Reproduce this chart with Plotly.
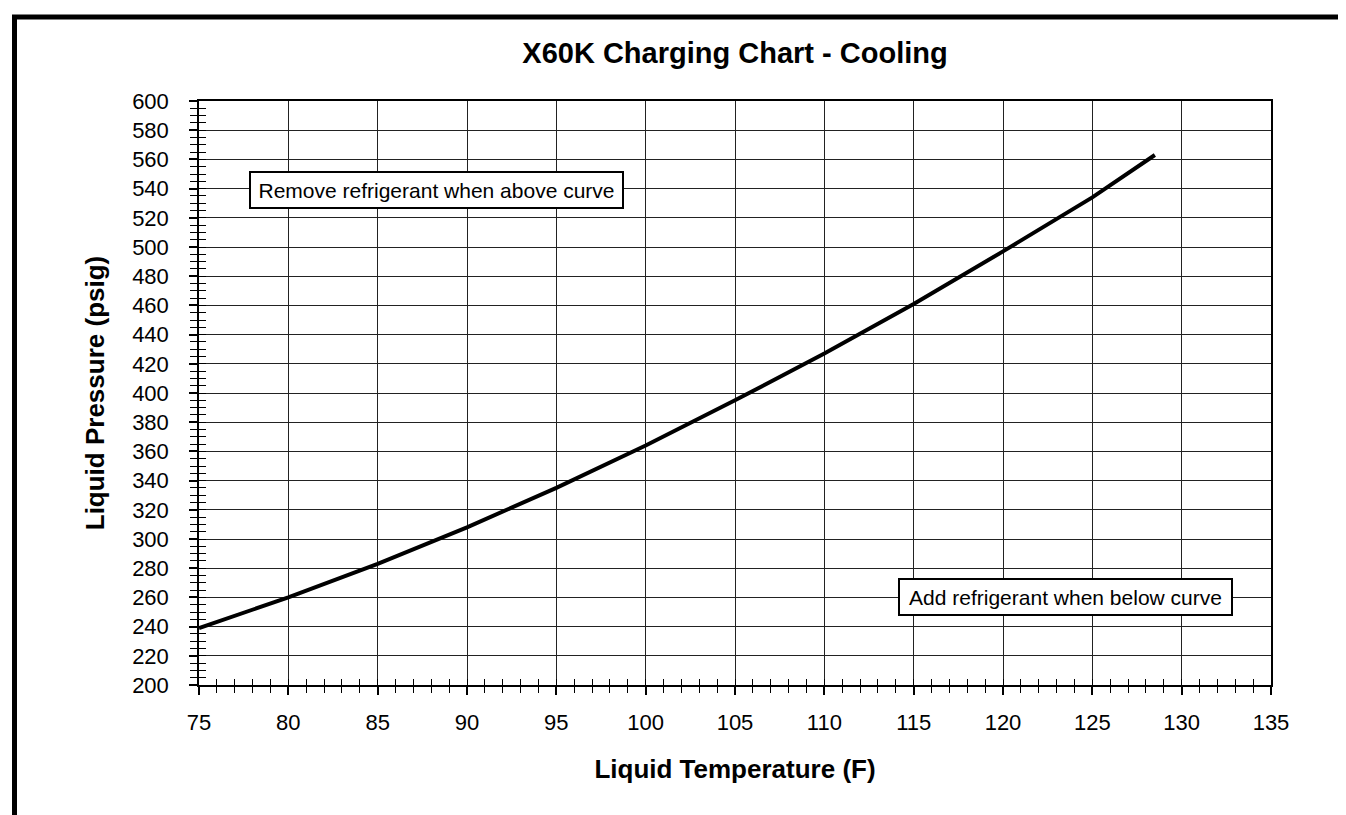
import plotly.graph_objects as go

# Data
temperature_f = [75, 80, 85, 90, 95, 100, 105, 110, 115, 120, 125, 128.5]
pressure_psig = [239, 260, 283, 308, 335, 364, 395, 427, 461, 497, 534, 563]

title_text = "X60K Charging Chart - Cooling"
x_title = "Liquid Temperature (F)"
y_title = "Liquid Pressure (psig)"
note_above = "Remove refrigerant when above curve"
note_below = "Add refrigerant when below curve"
note_above_pos = (88.3, 539)
note_below_pos = (123.5, 260)

FONT = "Liberation Sans, Arial, Helvetica, sans-serif"
W, H = 1346, 815
L, R, T, B = 191, 83, 93, 138
PW, PH = W - L - R, H - T - B

fig = go.Figure()
fig.add_trace(go.Scatter(x=temperature_f, y=pressure_psig, mode="lines",
                         line=dict(color="black", width=4), showlegend=False,
                         hoverinfo="skip"))
# invisible trace to host the overlay axes (ticks drawn inside)
fig.add_trace(go.Scatter(x=[75], y=[200], xaxis="x2", yaxis="y2", mode="markers",
                         marker=dict(opacity=0), showlegend=False, hoverinfo="skip"))

def px_to_paper_x(px):
    return (px - L) / PW

def px_to_paper_y(py):
    return (H - B - py) / PH

fig.update_layout(
    width=W, height=H,
    margin=dict(l=L, r=R, t=T, b=B),
    paper_bgcolor="white", plot_bgcolor="white",
    font=dict(family=FONT, color="black", size=22),
    title=dict(text="<b>" + title_text + "</b>", x=0.5, xref="paper",
               xanchor="center", y=1 - 45 / H, yref="container", yanchor="middle",
               font=dict(size=29, family=FONT, color="black")),
    xaxis=dict(range=[75, 135], tick0=75, dtick=5, ticks="outside", ticklen=8,
               tickwidth=1.5, tickcolor="black", showgrid=True, gridcolor="#222",
               gridwidth=1, showline=True, linecolor="black", linewidth=1.5,
               mirror=True, zeroline=False, ticklabelstandoff=9,
               tickfont=dict(size=22, family=FONT),
               minor=dict(dtick=1, tick0=75, ticks="outside", ticklen=6,
                          tickwidth=1, tickcolor="black", showgrid=False),
               title=dict(text="<b>" + x_title + "</b>", standoff=26,
                          font=dict(size=26, family=FONT))),
    yaxis=dict(range=[200, 600], tick0=200, dtick=20, ticks="outside", ticklen=8,
               tickwidth=1.5, tickcolor="black", showgrid=True, gridcolor="#222",
               gridwidth=1, showline=True, linecolor="black", linewidth=1.5,
               mirror=True, zeroline=False, ticklabelstandoff=16,
               tickfont=dict(size=22, family=FONT),
               minor=dict(dtick=5, tick0=200, ticks="outside", ticklen=7,
                          tickwidth=1, tickcolor="black", showgrid=False),
               title=dict(text="<b>" + y_title + "</b>", standoff=20,
                          font=dict(size=26, family=FONT))),
    xaxis2=dict(range=[75, 135], overlaying="x", anchor="y", side="bottom",
                tick0=75, dtick=1, ticks="inside", ticklen=6, tickwidth=1,
                tickcolor="black", showticklabels=False, showgrid=False,
                showline=False, zeroline=False),
    yaxis2=dict(range=[200, 600], overlaying="y", anchor="x", side="left",
                tick0=200, dtick=5, ticks="inside", ticklen=7, tickwidth=1,
                tickcolor="black", showticklabels=False, showgrid=False,
                showline=False, zeroline=False),
)

for (xv, yv), txt, wid in [(note_above_pos, note_above, 365),
                           (note_below_pos, note_below, 325)]:
    fig.add_annotation(x=xv, y=yv, xref="x", yref="y", text=txt, showarrow=False,
                       font=dict(size=21, family=FONT, color="black"),
                       bgcolor="white", bordercolor="black", borderwidth=2,
                       borderpad=3, width=wid, height=28, align="center",
                       xanchor="center", yanchor="middle")

# thick outer frame around the figure
fig.add_shape(type="rect", xref="paper", yref="paper",
              x0=px_to_paper_x(6.5), x1=px_to_paper_x(1344.5),
              y0=px_to_paper_y(840), y1=px_to_paper_y(9),
              line=dict(color="black", width=5), fillcolor="rgba(0,0,0,0)",
              layer="above")

fig.write_html("out.html")
